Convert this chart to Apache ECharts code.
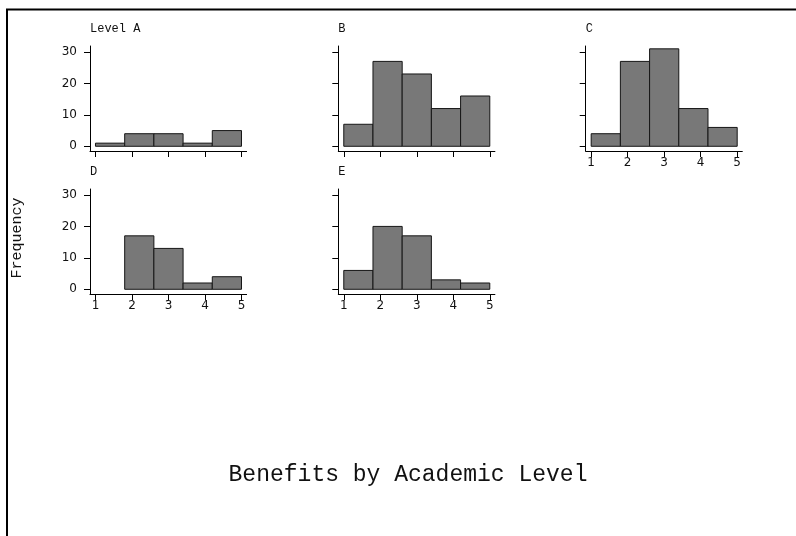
<!DOCTYPE html>
<html>
<head>
<meta charset="utf-8">
<script src="https://cdn.jsdelivr.net/npm/echarts@6/dist/echarts.min.js"></script>
<style>
  html, body { margin: 0; padding: 0; background: #fff; }
  #chart { width: 796px; height: 536px; }
</style>
</head>
<body>
<div id="chart"></div>
<script>
// Histogram bins shared by every panel (benefit score 1..5, five bins)
const binEdges = [1, 1.8, 2.6, 3.4, 4.2, 5];
const panelNames = ['Level A', 'B', 'C', 'D', 'E'];
const countsA = [1, 4, 4, 1, 5];
const countsB = [7, 27, 23, 12, 16];
const countsC = [4, 27, 31, 12, 6];
const countsD = [0, 17, 13, 2, 4];
const countsE = [6, 20, 17, 3, 2];
const xTicks = [1, 2, 3, 4, 5];
const yTicks = [0, 10, 20, 30];
const chartTitle = 'Benefits by Academic Level';
const yAxisTitle = 'Frequency';

const allCounts = [countsA, countsB, countsC, countsD, countsE];

// Panel placement: grid origin, and which axes carry labels
const panelLayout = [
  { left: 90,    top: 46,  showY: true,  showX: false },
  { left: 338.3, top: 46,  showY: false, showX: false },
  { left: 585.7, top: 46,  showY: false, showX: true  },
  { left: 90,    top: 189, showY: true,  showX: true  },
  { left: 338.3, top: 189, showY: false, showX: true  }
];
const gridW = 156.6, gridH = 105;
const xMin = 0.85, xMax = 5.14, yMin = -1.5, yMax = 31.9;

const labelFont = { color: '#111', fontFamily: 'DejaVu Sans', fontSize: 12 };
const monoFont = 'Liberation Mono';

const grids = [], xAxes = [], yAxes = [], series = [], titles = [];

panelLayout.forEach((p, i) => {
  grids.push({ left: p.left, top: p.top, width: gridW, height: gridH, containLabel: false });
  xAxes.push({
    type: 'value', gridIndex: i, min: xMin, max: xMax,
    axisLine: { show: true, onZero: false, lineStyle: { color: '#000', width: 1 } },
    axisTick: { show: true, customValues: xTicks, length: 6, lineStyle: { color: '#000' } },
    axisLabel: { show: p.showX, customValues: xTicks, margin: 6, ...labelFont },
    splitLine: { show: false }
  });
  yAxes.push({
    type: 'value', gridIndex: i, min: yMin, max: yMax,
    axisLine: { show: true, onZero: false, lineStyle: { color: '#000', width: 1 } },
    axisTick: { show: true, customValues: yTicks, length: 6, lineStyle: { color: '#000' } },
    axisLabel: { show: p.showY, customValues: yTicks, margin: 13, ...labelFont },
    splitLine: { show: false }
  });
  series.push({
    type: 'custom',
    xAxisIndex: i, yAxisIndex: i,
    data: allCounts[i].map((c, k) => [binEdges[k], binEdges[k + 1], c]),
    encode: { x: [0, 1], y: 2 },
    renderItem: function (params, api) {
      const lo = api.value(0), hi = api.value(1), n = api.value(2);
      if (!n) return null;
      const p0 = api.coord([lo, 0]);
      const p1 = api.coord([hi, n]);
      return {
        type: 'rect',
        shape: { x: p0[0], y: p1[1], width: p1[0] - p0[0], height: p0[1] - p1[1] },
        style: { fill: '#787878', stroke: '#161616', lineWidth: 1 }
      };
    }
  });
  titles.push({
    text: panelNames[i],
    left: p.left,
    top: p.top - 23,
    padding: 0,
    textStyle: { fontFamily: monoFont, fontSize: 12, fontWeight: 'normal', color: '#111' }
  });
});

const chart = echarts.init(document.getElementById('chart'), null, { renderer: 'canvas' });
chart.setOption({
  backgroundColor: '#fff',
  animation: false,
  title: titles,
  grid: grids,
  xAxis: xAxes,
  yAxis: yAxes,
  series: series,
  graphic: [
    {
      type: 'polyline',
      shape: { points: [[7, 536], [7, 9.5], [796, 9.5]] },
      style: { stroke: '#000', lineWidth: 2, fill: null }
    },
    {
      type: 'text', x: 408, y: 475,
      style: {
        text: chartTitle, fill: '#111', font: '23px "' + monoFont + '"',
        textAlign: 'center', textVerticalAlign: 'middle'
      }
    },
    {
      type: 'text', x: 17, y: 238, rotation: Math.PI / 2,
      style: {
        text: yAxisTitle, fill: '#111', font: '15px "' + monoFont + '"',
        textAlign: 'center', textVerticalAlign: 'middle'
      }
    }
  ]
});
</script>
</body>
</html>
